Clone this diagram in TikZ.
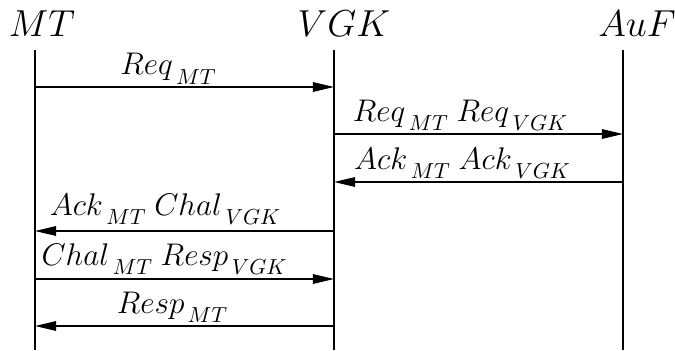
\documentclass[tikz,border=0pt]{standalone}
\usetikzlibrary{arrows.meta}
% subscript set a little apart and lower than TeX's default
\newcommand\lowsub[1]{\mkern2mu\lower4.2pt\hbox{$\scriptstyle #1$}}
\tikzset{
  lifeline/.style={line width=0.6pt},
  msg/.style={line width=0.6pt,-{Triangle[length=9.7pt,width=4.4pt]}},
  head/.style={anchor=base,font=\LARGE,inner sep=0pt},
  msglabel/.style={anchor=base,font=\fontsize{14}{17}\selectfont,inner sep=0pt}
}
\begin{document}
\begin{tikzpicture}[x=0.46pt,y=-0.46pt]
  \useasboundingbox (0,0) rectangle (675,350);
  % participants
  \node[head] (hMT)  at (42,37)  {$MT$};
  \node[head] (hVGK) at (344,37) {$VGK$};
  \node[head] (hAuF) at (637,37) {$AuF$};
  % lifelines
  \coordinate (mtTop)  at (35,50);   \coordinate (mtBot)  at (35,350);
  \coordinate (vgkTop) at (334,50);  \coordinate (vgkBot) at (334,350);
  \coordinate (aufTop) at (623,50);  \coordinate (aufBot) at (623,350);
  \draw[lifeline] (mtTop) -- (mtBot);
  \draw[lifeline] (vgkTop) -- (vgkBot);
  \draw[lifeline] (aufTop) -- (aufBot);
  % message end points on the lifelines
  \coordinate (m1a) at (35,87);   \coordinate (m1b) at (334,87);
  \coordinate (m2a) at (334,134); \coordinate (m2b) at (623,134);
  \coordinate (m3a) at (623,182); \coordinate (m3b) at (334,182);
  \coordinate (m4a) at (334,231); \coordinate (m4b) at (35,231);
  \coordinate (m5a) at (35,279);  \coordinate (m5b) at (334,279);
  \coordinate (m6a) at (334,326); \coordinate (m6b) at (35,326);
  % messages
  \draw[msg] (m1a) -- (m1b);
  \draw[msg] (m2a) -- (m2b);
  \draw[msg] (m3a) -- (m3b);
  \draw[msg] (m4a) -- (m4b);
  \draw[msg] (m5a) -- (m5b);
  \draw[msg] (m6a) -- (m6b);
  % message labels
  \node[msglabel] (l1) at (168,75)  {$Req\lowsub{MT}$};
  \node[msglabel] (l2) at (460,121) {$Req\lowsub{MT}\;Req\lowsub{VGK}$};
  \node[msglabel] (l3) at (462,169) {$Ack\lowsub{MT}\;Ack\lowsub{VGK}$};
  \node[msglabel] (l4) at (165,215) {$Ack\lowsub{MT}\;Chal\lowsub{VGK}$};
  \node[msglabel] (l5) at (164,265) {$Chal\lowsub{MT}\;Resp\lowsub{VGK}$};
  \node[msglabel] (l6) at (172,313) {$Resp\lowsub{MT}$};
\end{tikzpicture}
\end{document}
